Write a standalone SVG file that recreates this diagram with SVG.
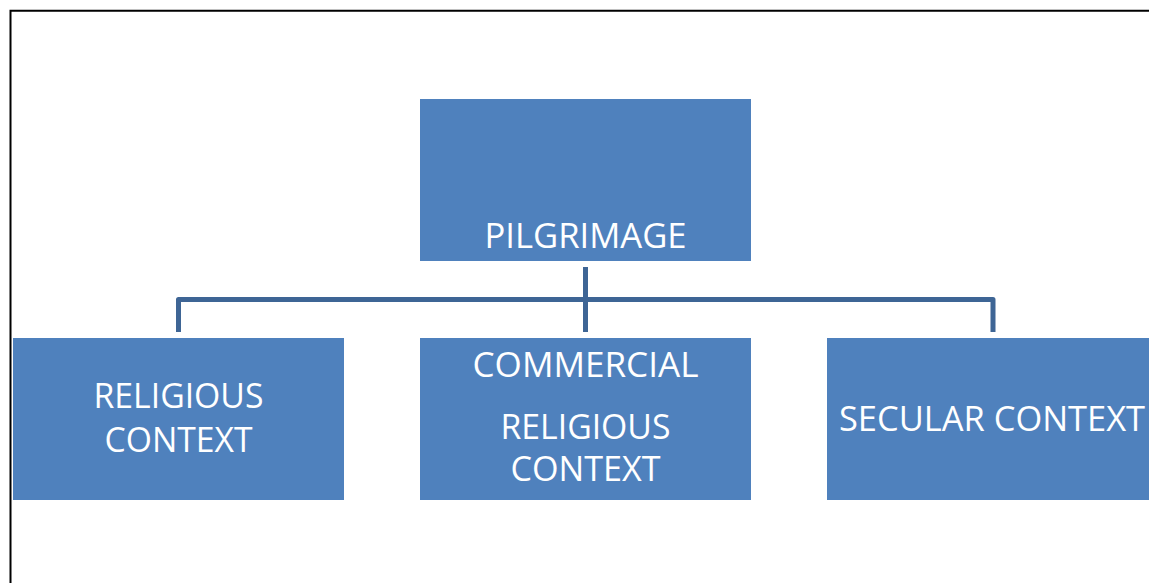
<svg xmlns="http://www.w3.org/2000/svg" width="1149" height="583" viewBox="0 0 1149 583">
  <style>
    .box { fill: #4F81BD; }
    .lbl { font-family: "Open Sans", "Liberation Sans", sans-serif; font-size: 34px; fill: #FFFFFF; text-anchor: middle; }
    .conn { fill: none; stroke: #3E6595; stroke-width: 5; stroke-linejoin: round; }
  </style>
  <rect x="0" y="0" width="1149" height="583" fill="#FFFFFF"/>
  <path d="M10.5 583 V10.8 H1149" fill="none" stroke="#000000" stroke-width="2"/>
  <g id="connectors">
    <path class="conn" d="M585.5 267 V332"/>
    <path class="conn" d="M178.5 332 V299.5 H993 V332"/>
  </g>
  <g id="pilgrimage">
    <rect class="box" x="420" y="99" width="331" height="162"/>
    <text class="lbl" x="585.5" y="247.7" textLength="202" lengthAdjust="spacingAndGlyphs">PILGRIMAGE</text>
  </g>
  <g id="religious">
    <rect class="box" x="13" y="338" width="331" height="162"/>
    <text class="lbl" x="178.5" y="407.7" textLength="170" lengthAdjust="spacingAndGlyphs">RELIGIOUS</text>
    <text class="lbl" x="178.5" y="451.7" textLength="148" lengthAdjust="spacingAndGlyphs">CONTEXT</text>
  </g>
  <g id="commercial">
    <rect class="box" x="420" y="338" width="331" height="162"/>
    <text class="lbl" x="585.5" y="376.7" textLength="226" lengthAdjust="spacingAndGlyphs">COMMERCIAL</text>
    <text class="lbl" x="585.5" y="439" textLength="170" lengthAdjust="spacingAndGlyphs">RELIGIOUS</text>
    <text class="lbl" x="585.5" y="481" textLength="150" lengthAdjust="spacingAndGlyphs">CONTEXT</text>
  </g>
  <g id="secular">
    <rect class="box" x="827" y="338" width="331" height="162"/>
    <text class="lbl" x="992" y="431" textLength="306" lengthAdjust="spacingAndGlyphs">SECULAR CONTEXT</text>
  </g>
</svg>
